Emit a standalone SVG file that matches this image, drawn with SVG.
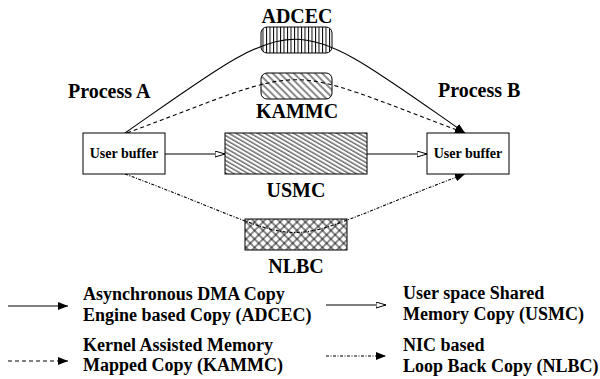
<svg xmlns="http://www.w3.org/2000/svg" width="600" height="379" viewBox="0 0 600 379">
<style>
text{font-family:"Liberation Serif","Times New Roman",serif;font-weight:bold;fill:#000}
.big{font-size:20px}
.lbl{font-size:14px}
.leg{font-size:18px}
.box{fill:#fff;stroke:#000;stroke-width:1}
.hbox{stroke:#000;stroke-width:1}
.c{fill:none;stroke:#000;stroke-width:1.1}
.dash{stroke-dasharray:4 3}
.dd{stroke-dasharray:3 1.5 1 1.5}
</style>
<defs>
<pattern id="pv" patternUnits="userSpaceOnUse" width="3.5" height="10"><line x1="0.5" y1="0" x2="0.5" y2="10" stroke="#000" stroke-width="1"/></pattern>
<pattern id="p45" patternUnits="userSpaceOnUse" width="5" height="10" patternTransform="rotate(-45)"><line x1="1" y1="0" x2="1" y2="10" stroke="#000" stroke-width="0.9"/></pattern>
<pattern id="p30" patternUnits="userSpaceOnUse" width="10" height="3.6" patternTransform="rotate(30)"><line x1="0" y1="1" x2="10" y2="1" stroke="#000" stroke-width="0.9"/></pattern>
<pattern id="px" patternUnits="userSpaceOnUse" width="6" height="6" patternTransform="rotate(45)"><line x1="1" y1="0" x2="1" y2="6" stroke="#000" stroke-width="0.9"/><line x1="0" y1="1" x2="6" y2="1" stroke="#000" stroke-width="0.9"/></pattern>
<marker id="af" viewBox="0 0 10 8" refX="10" refY="4" markerWidth="10" markerHeight="8" markerUnits="userSpaceOnUse" orient="auto"><path d="M0,0 L10,4 L0,8 Z" fill="#000"/></marker>
<marker id="ah" viewBox="0 0 11 7" refX="10.5" refY="3.5" markerWidth="11" markerHeight="7" markerUnits="userSpaceOnUse" orient="auto"><path d="M0.5,0.5 L10.5,3.5 L0.5,6.5 Z" fill="#fff" stroke="#000" stroke-width="1"/></marker>
</defs>

<g id="connectors">
<path class="c" d="M125,133 C304,8 286,8 465,133" marker-end="url(#af)"/>
<path class="c dash" d="M127,133 C318,62 274,62 465,133" marker-end="url(#af)"/>
<path class="c dd" d="M125,174 C334,252 256,252 465,174" marker-end="url(#af)"/>
<line class="c" x1="165" y1="154" x2="225" y2="154" marker-end="url(#ah)"/>
<line class="c" x1="367" y1="154" x2="427" y2="154" marker-end="url(#ah)"/>
</g>

<g id="adcec">
<rect class="hbox" x="261" y="27" width="71" height="26" rx="6" fill="url(#pv)"/>
<text class="big" x="297" y="23" text-anchor="middle">ADCEC</text>
</g>
<g id="kammc">
<rect class="hbox" x="261" y="73" width="71" height="26" rx="6" fill="url(#p45)"/>
<text class="big" x="297" y="118" text-anchor="middle">KAMMC</text>
</g>
<g id="usmc">
<rect class="hbox" x="225" y="133" width="142" height="41" fill="url(#p30)"/>
<text class="big" x="296" y="197" text-anchor="middle">USMC</text>
</g>
<g id="nlbc">
<rect class="hbox" x="245" y="219" width="102" height="31" fill="url(#px)"/>
<text class="big" x="296" y="273" text-anchor="middle">NLBC</text>
</g>
<g id="processA">
<text class="big" x="68" y="98">Process A</text>
<rect class="box" x="83" y="133" width="82" height="41"/>
<text class="lbl" x="124" y="158" text-anchor="middle">User buffer</text>
</g>
<g id="processB">
<text class="big" x="438" y="97">Process B</text>
<rect class="box" x="427" y="133" width="82" height="41"/>
<text class="lbl" x="468" y="158" text-anchor="middle">User buffer</text>
</g>

<g id="legend">
<line class="c" x1="8" y1="306" x2="68" y2="306" marker-end="url(#af)"/>
<text class="leg" x="83" y="300">Asynchronous DMA Copy</text>
<text class="leg" x="83" y="321">Engine based Copy (ADCEC)</text>
<line class="c dash" x1="8" y1="361" x2="68" y2="361" marker-end="url(#af)"/>
<text class="leg" x="83" y="351">Kernel Assisted Memory</text>
<text class="leg" x="83" y="371">Mapped Copy (KAMMC)</text>
<line class="c" x1="326" y1="305" x2="386" y2="305" marker-end="url(#ah)"/>
<text class="leg" x="403" y="299">User space Shared</text>
<text class="leg" x="403" y="320">Memory Copy (USMC)</text>
<line class="c dd" x1="326" y1="356" x2="386" y2="356" marker-end="url(#af)"/>
<text class="leg" x="403" y="351">NIC based</text>
<text class="leg" x="403" y="372">Loop Back Copy (NLBC)</text>
</g>
</svg>
